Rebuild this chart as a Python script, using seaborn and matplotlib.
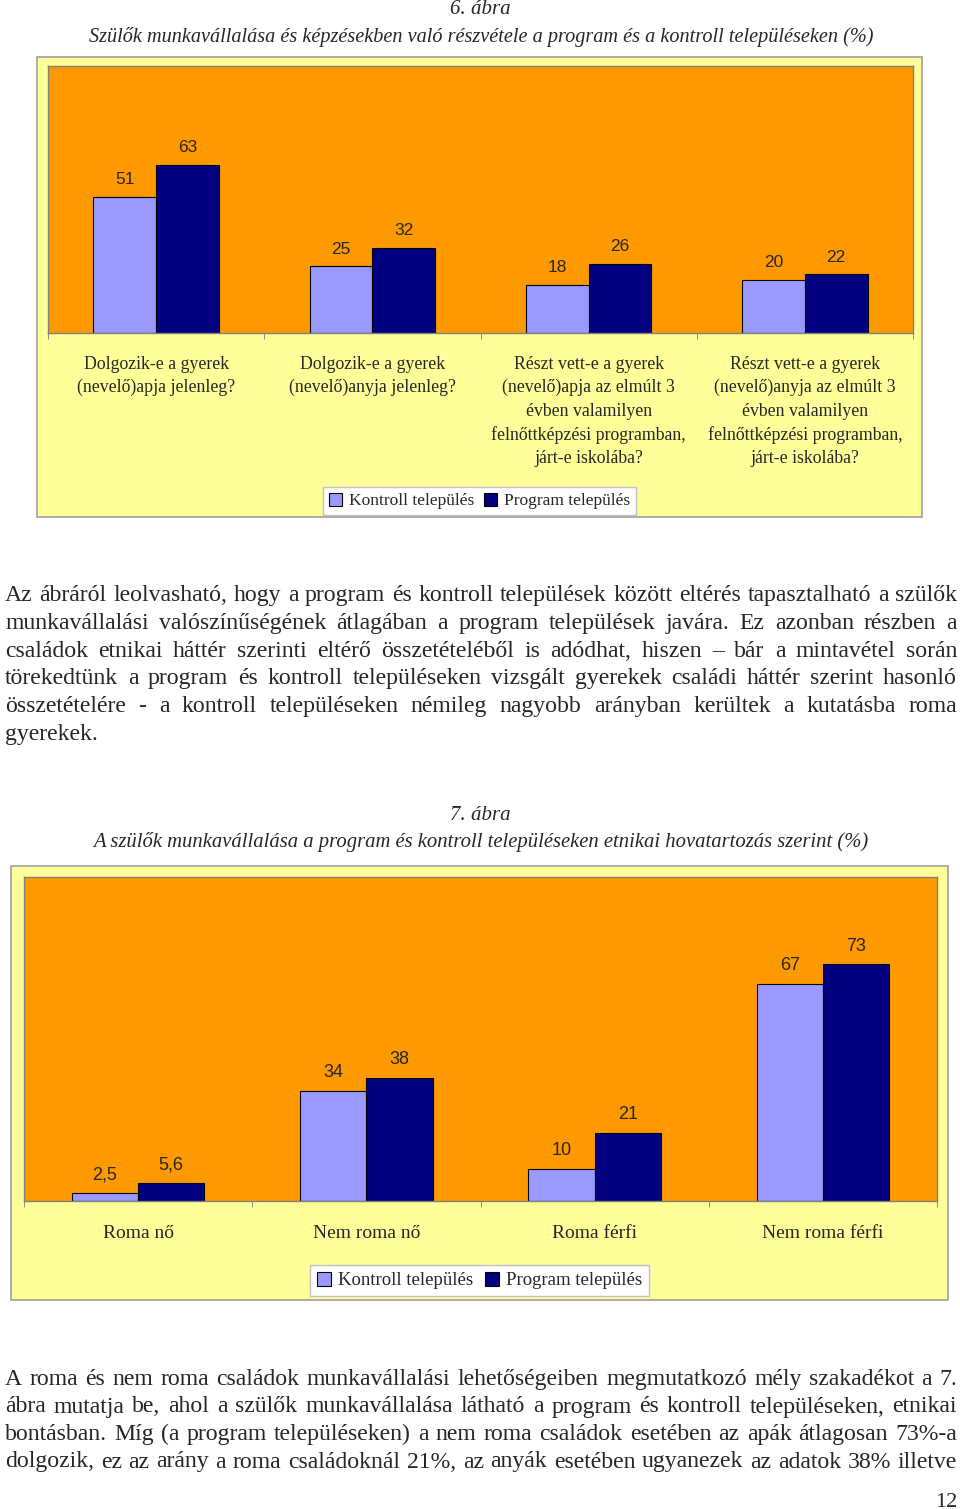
import matplotlib
matplotlib.use("Agg")
import matplotlib.pyplot as plt
import seaborn as sns
import pandas as pd
from matplotlib.patches import Rectangle, Patch

# Adatok
cats1 = ["Dolgozik-e a gyerek\n(nevelő)apja jelenleg?",
         "Dolgozik-e a gyerek\n(nevelő)anyja jelenleg?",
         "Részt vett-e a gyerek\n(nevelő)apja az elmúlt 3\névben valamilyen\nfelnőttképzési programban,\njárt-e iskolába?",
         "Részt vett-e a gyerek\n(nevelő)anyja az elmúlt 3\névben valamilyen\nfelnőttképzési programban,\njárt-e iskolába?"]
kontroll1 = [51, 25, 18, 20]
program1 = [63, 32, 26, 22]

cats2 = ["Roma nő", "Nem roma nő", "Roma férfi", "Nem roma férfi"]
kontroll2 = [2.5, 34, 10, 67]
program2 = [5.6, 38, 21, 73]

groups = ["Kontroll település", "Program település"]
colors = {"Kontroll település": "#9999FF", "Program település": "#000080"}

title1 = "6. ábra"
subtitle1 = "Szülők munkavállalása és képzésekben való részvétele a program és a kontroll településeken (%)"
title2 = "7. ábra"
subtitle2 = "A szülők munkavállalása a program és kontroll településeken etnikai hovatartozás szerint (%)"

para1 = [
    "Az ábráról leolvasható, hogy a program és kontroll települések között eltérés tapasztalható a szülők",
    "munkavállalási valószínűségének átlagában a program települések javára. Ez azonban részben a",
    "családok etnikai háttér szerinti eltérő összetételéből is adódhat, hiszen – bár a mintavétel során",
    "törekedtünk a program és kontroll településeken vizsgált gyerekek családi háttér szerint hasonló",
    "összetételére - a kontroll településeken némileg nagyobb arányban kerültek a kutatásba roma",
    "gyerekek.",
]
para2 = [
    "A roma és nem roma családok munkavállalási lehetőségeiben megmutatkozó mély szakadékot a 7.",
    "ábra mutatja be, ahol a szülők munkavállalása látható a program és kontroll településeken, etnikai",
    "bontásban. Míg (a program településeken) a nem roma családok esetében az apák átlagosan 73%-a",
    "dolgozik, ez az arány a roma családoknál 21%, az anyák esetében ugyanezek az adatok 38% illetve",
]

sns.set_style("white")
plt.rcParams["font.family"] = ["Liberation Serif", "DejaVu Serif"]
SERIF = "Liberation Serif"
SANS = "Liberation Sans"

W, H = 960, 1509
fig = plt.figure(figsize=(W / 100, H / 100), dpi=100)
fig.patch.set_facecolor("white")

# oldal tengely pixel koordinátákkal
page = fig.add_axes([0, 0, 1, 1], zorder=0)
page.set_xlim(0, W)
page.set_ylim(H, 0)
page.axis("off")
renderer = fig.canvas.get_renderer()


def text_width(s, size, **kw):
    t = page.text(0, 0, s, fontsize=size, **kw)
    w = t.get_window_extent(renderer).width
    t.remove()
    return w


def fit_text(x, y, s, width, **kw):
    size = 14 * width / text_width(s, 14, **kw)
    return page.text(x, y, s, fontsize=size, **kw)


def justify(lines, x0, x1, y0, dy, size, last_left):
    for i, line in enumerate(lines):
        y = y0 + i * dy
        words = line.split(" ")
        texts = [page.text(0, y, w, fontsize=size, family=SERIF, va="baseline") for w in words]
        widths = [t.get_window_extent(renderer).width for t in texts]
        if last_left and i == len(lines) - 1:
            gap = text_width("a b", size, family=SERIF) - text_width("ab", size, family=SERIF)
        else:
            gap = (x1 - x0 - sum(widths)) / max(len(words) - 1, 1)
        x = x0
        for t, w in zip(texts, widths):
            t.set_x(x)
            x += w + gap


# bekezdés betűméret: a leghosszabb sor férjen ki természetes szóközökkel
full = [l for l in para1[:-1] + para2]
widest = max(text_width(l, 14, family=SERIF) for l in full)
PSIZE = 14 * 950 / widest

# címek
page.text(480, 10, title1, ha="center", va="center", fontsize=15, style="italic", family=SERIF)
fit_text(481, 37, subtitle1, 786, ha="center", va="center", style="italic", family=SERIF)
page.text(480, 815, title2, ha="center", va="center", fontsize=15, style="italic", family=SERIF)
fit_text(481, 842, subtitle2, 778, ha="center", va="center", style="italic", family=SERIF)

# sárga keretek
page.add_patch(Rectangle((37, 57), 885, 460, facecolor="#FFFF99", edgecolor="#A0A0A0", lw=1.2))
page.add_patch(Rectangle((11, 866), 937, 434, facecolor="#FFFF99", edgecolor="#A0A0A0", lw=1.2))


def draw_chart(rect, cats, kontroll, program, label_fmt, fs_cat, ls_cat, fs_val, pad_cat, leg_xy, fs_leg):
    ax = fig.add_axes(rect, zorder=2)
    df = pd.DataFrame({
        "cat": cats * 2,
        "val": kontroll + program,
        "group": [groups[0]] * len(cats) + [groups[1]] * len(cats),
    })
    sns.barplot(data=df, x="cat", y="val", hue="group", order=cats, hue_order=groups,
                palette=colors, width=0.58, edgecolor="black", linewidth=0.8,
                saturation=1, ax=ax, legend=False)
    ax.set_facecolor("#FF9900")
    ax.set_ylim(0, 100)
    ax.set_xlim(-0.5, len(cats) - 0.5)
    ax.set_xlabel("")
    ax.set_ylabel("")
    ax.set_yticks([])
    for sp in ax.spines.values():
        sp.set_color("#808080")
        sp.set_linewidth(1)
    ax.tick_params(axis="x", which="major", length=0, pad=pad_cat, labelsize=fs_cat)
    ax.set_xticks([i - 0.5 for i in range(len(cats) + 1)], minor=True)
    ax.tick_params(axis="x", which="minor", length=4, color="#808080", direction="out", bottom=True)
    for lab in ax.get_xticklabels():
        lab.set_family(SERIF)
        lab.set_linespacing(ls_cat)
        lab.set_va("top")
    for cont, vals in zip(ax.containers, [kontroll, program]):
        ax.bar_label(cont, labels=[label_fmt(v) for v in vals], padding=7,
                     fontsize=fs_val, family=SANS)
    handles = [Patch(facecolor=colors[g], edgecolor="black", lw=0.8) for g in groups]
    ax.legend(handles, groups, loc="center", bbox_to_anchor=leg_xy, bbox_transform=page.transData,
              ncol=2, frameon=True, fancybox=False, edgecolor="#C0C0C0", facecolor="white",
              framealpha=1, handlelength=0.75, handleheight=0.75, handletextpad=0.4,
              columnspacing=0.6, borderpad=0.35, prop={"family": SERIF, "size": fs_leg})
    return ax


def fmt1(v):
    return f"{v:g}"


def fmt2(v):
    return f"{v:g}".replace(".", ",")


draw_chart([48 / W, (H - 333) / H, 865 / W, 267 / H], cats1, kontroll1, program1, fmt1,
           12.8, 1.47, 12.5, 16.5, (479.5, 501), 12.5)
draw_chart([24 / W, (H - 1201) / H, 913 / W, 324 / H], cats2, kontroll2, program2, fmt2,
           14, 1.2, 13, 17.5, (479.5, 1280.5), 13.5)

# szöveg
justify(para1, 5, 957, 601, 27.8, PSIZE, True)
justify(para2, 5, 957, 1385, 27.5, PSIZE, False)
page.text(957, 1507, "12", ha="right", va="baseline", fontsize=16, family=SERIF)

fig.savefig("out.png", dpi=100)
